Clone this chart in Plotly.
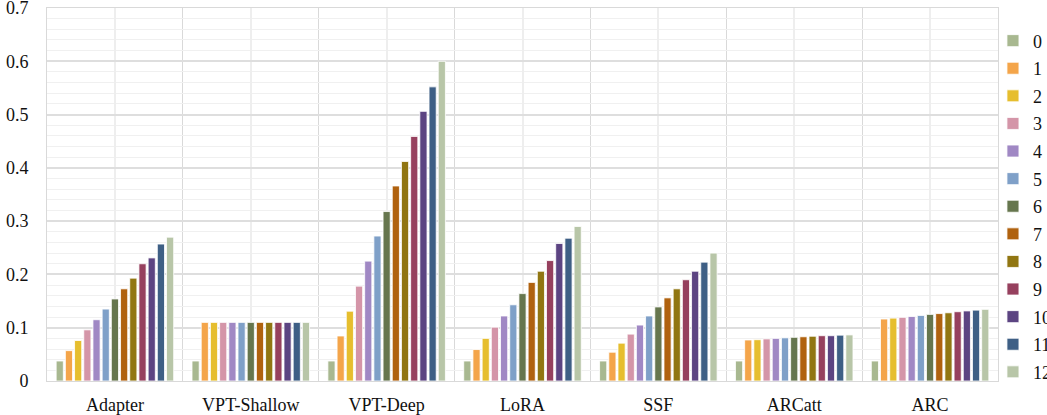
import plotly.graph_objects as go

methods = ["Adapter", "VPT-Shallow", "VPT-Deep", "LoRA", "SSF", "ARCatt", "ARC"]
series_names = ["0", "1", "2", "3", "4", "5", "6", "7", "8", "9", "10", "11", "12"]

# values for series 0..12 in each method group
adapter = [0.0375, 0.057, 0.076, 0.096, 0.115, 0.135, 0.154, 0.173, 0.193, 0.220, 0.231, 0.257, 0.270]
vpt_shallow = [0.0375, 0.110, 0.110, 0.110, 0.110, 0.110, 0.110, 0.110, 0.110, 0.110, 0.110, 0.110, 0.110]
vpt_deep = [0.0375, 0.0845, 0.131, 0.178, 0.225, 0.272, 0.318, 0.366, 0.412, 0.459, 0.506, 0.552, 0.600]
lora = [0.0375, 0.059, 0.080, 0.101, 0.122, 0.143, 0.164, 0.185, 0.206, 0.226, 0.258, 0.268, 0.290]
ssf = [0.0375, 0.054, 0.071, 0.088, 0.105, 0.122, 0.139, 0.156, 0.173, 0.190, 0.206, 0.223, 0.240]
arcatt = [0.0375, 0.077, 0.0775, 0.079, 0.080, 0.081, 0.082, 0.083, 0.084, 0.085, 0.085, 0.086, 0.0865]
arc = [0.0375, 0.1163, 0.118, 0.1195, 0.121, 0.123, 0.125, 0.1265, 0.128, 0.130, 0.1315, 0.133, 0.1345]

colors = ["#A8B890", "#F4A54A", "#E6BE2E", "#D495A8", "#A088C4", "#7FA0C8", "#66764E",
          "#B0620F", "#917612", "#96405E", "#5C4482", "#3E5F85", "#B8C6A8"]

groups = [adapter, vpt_shallow, vpt_deep, lora, ssf, arcatt, arc]
xpos = list(range(len(methods)))

FONT = "Liberation Serif"

fig = go.Figure()
for i, name in enumerate(series_names):
    fig.add_trace(go.Bar(
        x=xpos,
        y=[g[i] for g in groups],
        name=name,
        legendgroup=name,
        marker=dict(color=colors[i], line=dict(color="rgba(255,255,255,0.8)", width=1)),
    ))

fig.update_layout(
    width=1047, height=415,
    margin=dict(l=47, r=49, t=8, b=34, autoexpand=False),
    paper_bgcolor="white", plot_bgcolor="white",
    barmode="group", bargap=0.12, bargroupgap=0.22,
    font=dict(family=FONT, size=18, color="#111"),
    legend=dict(x=0.9947, xanchor="left", y=0.468, yanchor="middle",
                font=dict(family=FONT, size=18, color="#111"),
                traceorder="grouped", tracegroupgap=1.2,
                bgcolor="rgba(0,0,0,0)"),
)
fig.update_xaxes(
    range=[-0.5, len(methods) - 0.5],
    tickmode="array", tickvals=xpos, ticktext=methods,
    tickfont=dict(family=FONT, size=18, color="#111"),
    showgrid=True, gridcolor="#eeeeee", gridwidth=2,
    minor=dict(tickmode="array", tickvals=[p - 0.5 for p in xpos] + [len(methods) - 0.5],
               showgrid=True, gridcolor="#d9d9d9", gridwidth=1, ticks=""),
    showline=True, linecolor="#d9d9d9", linewidth=1, mirror=True,
    ticks="", ticklabelstandoff=7, zeroline=False,
)
fig.update_yaxes(
    range=[0, 0.7], tickmode="array",
    tickvals=[0, 0.1, 0.2, 0.3, 0.4, 0.5, 0.6, 0.7],
    ticktext=["0", "0.1", "0.2", "0.3", "0.4", "0.5", "0.6", "0.7"],
    tickfont=dict(family=FONT, size=18, color="#111"),
    ticklabeloverflow="allow",
    showgrid=True, gridcolor="#dedede", gridwidth=2,
    minor=dict(dtick=0.02, showgrid=True, gridcolor="#f0f0f0", gridwidth=1),
    showline=True, linecolor="#d9d9d9", linewidth=1, mirror=True,
    ticks="", ticklabelstandoff=14, zeroline=False,
)

fig.write_html("out.html", config={"displayModeBar": False},
               post_script="document.body.style.margin='0px';")
